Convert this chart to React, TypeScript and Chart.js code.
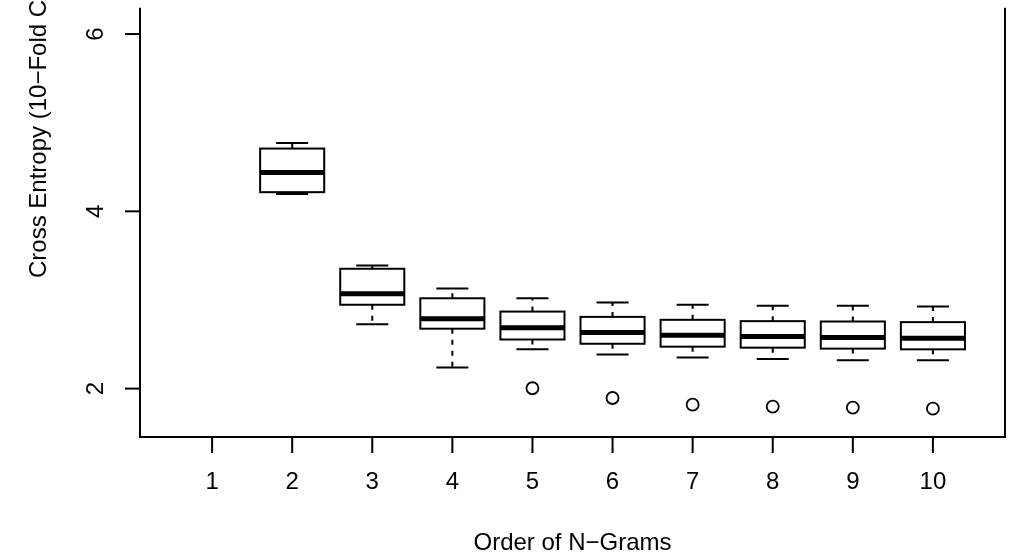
import React, { useEffect, useRef } from "react";
import { Chart, registerables } from "chart.js";

Chart.register(...registerables);

const categories = [1, 2, 3, 4, 5, 6, 7, 8, 9, 10];
const whiskerLow: (number | null)[] = [null, 4.194, 2.725, 2.237, 2.443, 2.384, 2.351, 2.333, 2.321, 2.321];
const boxLow: (number | null)[] = [null, 4.216, 2.946, 2.676, 2.554, 2.506, 2.473, 2.462, 2.451, 2.443];
const medians: (number | null)[] = [null, 4.438, 3.071, 2.787, 2.687, 2.632, 2.603, 2.587, 2.576, 2.569];
const boxHigh: (number | null)[] = [null, 4.708, 3.352, 3.019, 2.869, 2.809, 2.776, 2.761, 2.757, 2.750];
const whiskerHigh: (number | null)[] = [null, 4.770, 3.389, 3.130, 3.019, 2.972, 2.946, 2.935, 2.935, 2.927];
const outlierX = [5, 6, 7, 8, 9, 10];
const outlierY = [2.004, 1.894, 1.819, 1.797, 1.786, 1.775];
const yTicks = [2, 4, 6];
const xTitle = "Order of N\u2212Grams";
const yTitle = "Cross Entropy (10\u2212Fold CV)";

const FONT = '24px "Liberation Sans", Arial, Helvetica, sans-serif';

const boxPlugin = {
  id: "boxPlugin",
  beforeDatasetsDraw(chart: any) {
    const ctx = chart.ctx;
    const xs = chart.scales.x;
    const ys = chart.scales.y;
    ctx.save();
    ctx.strokeStyle = "#000";
    categories.forEach((c, i) => {
      if (medians[i] == null) return;
      const xc = xs.getPixelForValue(c);
      const xl = xs.getPixelForValue(c - 0.4);
      const xr = xs.getPixelForValue(c + 0.4);
      const cl = xs.getPixelForValue(c - 0.2);
      const cr = xs.getPixelForValue(c + 0.2);
      const yq1 = ys.getPixelForValue(boxLow[i]);
      const yq3 = ys.getPixelForValue(boxHigh[i]);
      const ym = ys.getPixelForValue(medians[i]);
      const ywl = ys.getPixelForValue(whiskerLow[i]);
      const ywh = ys.getPixelForValue(whiskerHigh[i]);
      // whiskers (dashed)
      ctx.lineWidth = 2;
      ctx.setLineDash([5, 6]);
      ctx.beginPath();
      ctx.moveTo(xc, yq3);
      ctx.lineTo(xc, ywh);
      ctx.moveTo(xc, yq1);
      ctx.lineTo(xc, ywl);
      ctx.stroke();
      ctx.setLineDash([]);
      // caps
      ctx.beginPath();
      ctx.moveTo(cl, ywh);
      ctx.lineTo(cr, ywh);
      ctx.moveTo(cl, ywl);
      ctx.lineTo(cr, ywl);
      ctx.stroke();
      // box
      ctx.fillStyle = "#fff";
      ctx.fillRect(xl, yq3, xr - xl, yq1 - yq3);
      ctx.strokeRect(xl, yq3, xr - xl, yq1 - yq3);
      // median
      ctx.lineWidth = 5;
      ctx.beginPath();
      ctx.moveTo(xl, ym);
      ctx.lineTo(xr, ym);
      ctx.stroke();
    });
    ctx.restore();
  },
  afterDraw(chart: any) {
    const ctx = chart.ctx;
    const xs = chart.scales.x;
    const ys = chart.scales.y;
    const a = chart.chartArea;
    ctx.save();
    ctx.strokeStyle = "#000";
    ctx.fillStyle = "#000";
    ctx.lineWidth = 2;
    // frame (top is outside the picture)
    ctx.beginPath();
    ctx.moveTo(a.left, a.top);
    ctx.lineTo(a.left, a.bottom);
    ctx.lineTo(a.right, a.bottom);
    ctx.lineTo(a.right, a.top);
    ctx.stroke();
    // x ticks
    ctx.font = FONT;
    ctx.textAlign = "center";
    ctx.textBaseline = "alphabetic";
    categories.forEach((c) => {
      const x = xs.getPixelForValue(c);
      ctx.beginPath();
      ctx.moveTo(x, a.bottom);
      ctx.lineTo(x, a.bottom + 16);
      ctx.stroke();
      ctx.fillText(String(c), x, a.bottom + 52);
    });
    // y ticks
    yTicks.forEach((t) => {
      const y = ys.getPixelForValue(t);
      ctx.beginPath();
      ctx.moveTo(a.left, y);
      ctx.lineTo(a.left - 15, y);
      ctx.stroke();
      ctx.save();
      ctx.translate(a.left - 37, y);
      ctx.rotate(-Math.PI / 2);
      ctx.textAlign = "center";
      ctx.fillText(String(t), 0, 0);
      ctx.restore();
    });
    // titles
    ctx.textAlign = "center";
    ctx.fillText(xTitle, (a.left + a.right) / 2, a.bottom + 113);
    ctx.save();
    ctx.translate(a.left - 94, 278);
    ctx.rotate(-Math.PI / 2);
    ctx.textAlign = "left";
    ctx.fillText(yTitle, 0, 0);
    ctx.restore();
    ctx.restore();
  },
};

export default function App() {
  const ref = useRef<HTMLCanvasElement | null>(null);
  useEffect(() => {
    if (!ref.current) return;
    const chart = new Chart(ref.current, {
      type: "scatter",
      data: {
        datasets: [
          {
            label: "outliers",
            data: outlierX.map((x, i) => ({ x, y: outlierY[i] })),
            pointStyle: "circle",
            pointRadius: 6,
            pointBorderWidth: 1.8,
            borderColor: "#000",
            backgroundColor: "rgba(255,255,255,0)",
          },
        ],
      },
      options: {
        responsive: false,
        animation: false,
        devicePixelRatio: 1,
        layout: { padding: { left: 140, right: 8, top: 0, bottom: 117 } },
        plugins: { legend: { display: false }, tooltip: { enabled: false } },
        scales: {
          x: { type: "linear", min: 0.1, max: 10.9, display: false },
          y: { type: "linear", min: 1.454, max: 6.296, display: false },
        },
      },
      plugins: [boxPlugin],
    });
    return () => chart.destroy();
  }, []);
  return (
    <div style={{ position: "absolute", left: 0, top: 0, width: 1013, height: 554, background: "#fff" }}>
      <canvas ref={ref} width={1013} height={554} style={{ display: "block" }} />
    </div>
  );
}
